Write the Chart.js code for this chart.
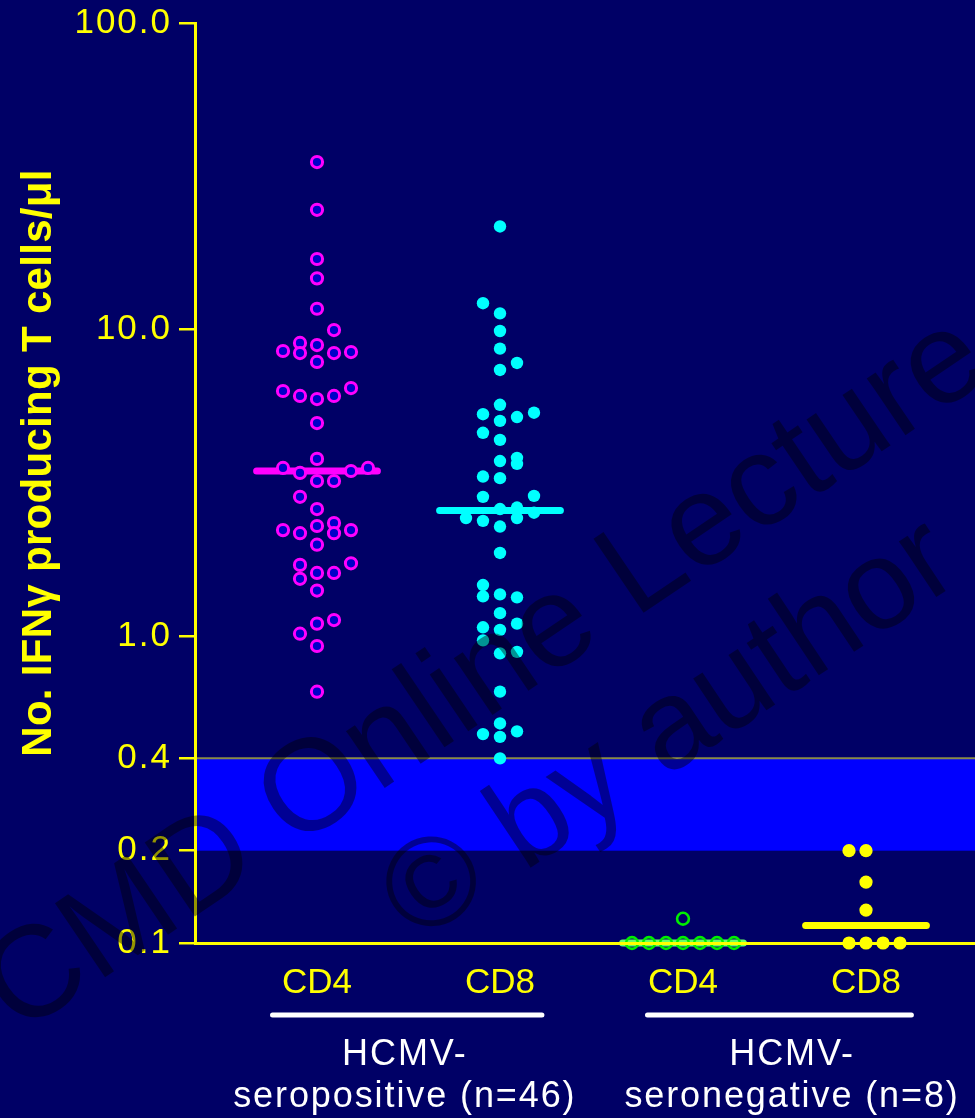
<!DOCTYPE html>
<html><head><meta charset="utf-8">
<script src="https://cdn.jsdelivr.net/npm/chart.js@4.4.1/dist/chart.umd.min.js"></script>
<style>html,body{margin:0;padding:0;background:#000066;}#wrap{width:975px;height:1118px;position:relative;}canvas{display:block}</style>
</head><body><div id="wrap"><canvas id="c"></canvas></div>
<script>
// ---------- data ----------
const categories = ['CD4', 'CD8', 'CD4', 'CD8'];
const groupLines = [['HCMV-', 'seropositive (n=46)'], ['HCMV-', 'seronegative (n=8)']];
const yTickValues = [0.1, 0.2, 0.4, 1, 10, 100];
const yTitle = 'No. IFNγ producing T cells/μl';
const watermark = ['CMD Online Lecture', '© by author'];
const cutoffBand = [0.2, 0.4];

// HCMV-seropositive CD4 (values, beeswarm column)
const posCD4 = [35.2, 24.6, 17.0, 14.7, 11.7, 9.97, 9.05, 8.91, 8.52, 8.39, 8.39, 8.45, 7.85,
  6.31, 6.45, 6.08, 5.94, 6.08, 4.96, 3.79, 3.54, 3.41, 3.46, 3.54, 3.21, 3.21, 2.85, 2.60,
  2.34, 2.29, 2.22, 2.17, 2.17, 2.22, 1.99, 1.71, 1.73, 1.61, 1.61, 1.54, 1.41, 1.13, 1.10,
  1.02, 0.93, 0.66];
const posCD4Col = [0, 0, 0, 0, 0, 1, -1, 0, -2, -1, 1, 2, 0,
  -2, 2, -1, 0, 1, 0, 0, -2, -1, 2, 3, 0, 1, -1, 0,
  1, 0, -2, -1, 1, 2, 0, -1, 2, 0, 1, -1, 0, 1, 0,
  -1, 0, 0];
// HCMV-seropositive CD8
const posCD8 = [21.7, 12.2, 11.3, 9.90, 8.67, 7.79, 7.39, 5.69, 5.30, 5.04, 5.19, 5.36, 4.61,
  4.37, 3.73, 3.82, 3.65, 3.32, 3.28, 2.85, 2.87, 2.60, 2.63, 2.53, 2.43, 2.38, 2.43, 2.28,
  1.87, 1.47, 1.35, 1.37, 1.34, 1.19, 1.07, 1.05, 1.10, 0.97, 0.88, 0.89, 0.66, 0.52, 0.48,
  0.49, 0.47, 0.40];
const posCD8Col = [0, -1, 0, 0, 0, 1, 0, 0, -1, 0, 1, 2, -1,
  0, 0, 1, 1, -1, 0, -1, 2, 0, 1, 2, -2, -1, 1, 0,
  0, -1, -1, 0, 1, 0, -1, 0, 1, -1, 0, 1, 0, 0, -1,
  1, 0, 0];
// HCMV-seronegative CD4 / CD8
const negCD4 = [0.1, 0.1, 0.1, 0.1, 0.1, 0.1, 0.1, 0.12];
const negCD4Col = [-3, -2, -1, 0, 1, 2, 3, 0];
const negCD8 = [0.2, 0.2, 0.158, 0.128, 0.1, 0.1, 0.1, 0.1];
const negCD8Col = [-1, 0, 0, 0, -1, 0, 1, 2];
// medians
const medians = [3.46, 2.57, 0.1, 0.114];

// ---------- styles ----------
const BG = '#000066';
const YEL = '#ffff00';
const FONT = '"Liberation Sans", Arial, Helvetica, sans-serif';
const COL_W = 17 / 183;       // beeswarm column width in category units
const MED_HALF = 0.33;        // half-length of median bars
const medColors = ['#ff00ff', '#00ffff', '#66ff66', '#ffff00'];

function pts(vals, cols, idx) { return vals.map((v, k) => ({ x: idx + cols[k] * COL_W, y: v })); }
function medSeg(i) { return [{ x: i + 1 - MED_HALF, y: medians[i] }, { x: i + 1 + MED_HALF, y: medians[i] }]; }

const deco = {
  id: 'deco',
  beforeDraw(chart) {
    const { ctx, chartArea: a, scales: { y } } = chart;
    ctx.save();
    ctx.fillStyle = BG; ctx.fillRect(0, 0, chart.width, chart.height);
    const y4 = y.getPixelForValue(cutoffBand[1]), y2 = y.getPixelForValue(cutoffBand[0]);
    ctx.fillStyle = '#0000ff'; ctx.fillRect(a.left, y4, a.right - a.left, y2 - y4);
    ctx.strokeStyle = '#8a8a48'; ctx.lineWidth = 2;
    ctx.beginPath(); ctx.moveTo(a.left, y4); ctx.lineTo(a.right, y4); ctx.stroke();
    ctx.restore();
    ctx.letterSpacing = '2px';
  },
  beforeDatasetsDraw(chart) { chart.ctx.letterSpacing = '0px'; },
  afterDraw(chart) {
    const { ctx, scales: { x } } = chart;
    ctx.save();
    ctx.letterSpacing = '0px';
    // y title
    ctx.save();
    ctx.translate(51, 463); ctx.rotate(-Math.PI / 2);
    ctx.font = 'bold 42px ' + FONT; ctx.fillStyle = YEL;
    ctx.textAlign = 'center'; ctx.textBaseline = 'alphabetic';
    ctx.letterSpacing = '0.3px';
    ctx.fillText(yTitle, 0, 0);
    ctx.restore();
    // group underlines + labels
    const groupSpan = [[0.757, 2.229], [2.806, 4.248]];
    const groupCenter = [1.48, 3.596];
    ctx.strokeStyle = '#ffffff'; ctx.lineWidth = 5; ctx.lineCap = 'round';
    groupSpan.forEach(s => {
      ctx.beginPath(); ctx.moveTo(x.getPixelForValue(s[0]), 1015); ctx.lineTo(x.getPixelForValue(s[1]), 1015); ctx.stroke();
    });
    ctx.fillStyle = '#ffffff'; ctx.font = '36px ' + FONT; ctx.textAlign = 'center'; ctx.textBaseline = 'alphabetic';
    ctx.letterSpacing = '1.9px';
    groupLines.forEach((g, i) => {
      const cx = x.getPixelForValue(groupCenter[i]);
      ctx.fillText(g[0], cx, 1065);
      ctx.fillText(g[1], cx, 1107);
    });
    ctx.letterSpacing = '0px';
    // watermark
    ctx.fillStyle = 'rgba(0,0,0,0.42)';
    ctx.textAlign = 'center'; ctx.textBaseline = 'middle';
    ctx.save(); ctx.translate(486, 676); ctx.rotate(-34.1 * Math.PI / 180);
    ctx.font = '130px ' + FONT; ctx.fillText(watermark[0], 0, 0); ctx.restore();
    ctx.save(); ctx.translate(671, 732); ctx.rotate(-33.7 * Math.PI / 180);
    ctx.font = '127px ' + FONT; ctx.fillText(watermark[1], 0, 0); ctx.restore();
    ctx.restore();
  }
};

const common = { clip: false, order: 1 };
new Chart(document.getElementById('c'), {
  type: 'scatter',
  data: {
    datasets: [
      ...medians.map((m, i) => ({ type: 'line', data: medSeg(i), borderColor: medColors[i], borderWidth: 7,
        borderCapStyle: 'round', pointRadius: 0, clip: false, order: 2 })),
      { ...common, data: pts(posCD4, posCD4Col, 1), pointRadius: 5.6, pointBorderWidth: 3,
        pointBorderColor: '#ff00ff', pointBackgroundColor: '#0000c8' },
      { ...common, data: pts(posCD8, posCD8Col, 2), pointRadius: 6.2, pointBorderWidth: 0,
        pointBorderColor: '#00ffff', pointBackgroundColor: '#00ffff' },
      { ...common, data: pts(negCD4, negCD4Col, 3), pointRadius: 5.9, pointBorderWidth: 2.6,
        pointBorderColor: '#00ee00', pointBackgroundColor: 'rgba(0,0,0,0)' },
      { ...common, data: pts(negCD8, negCD8Col, 4), pointRadius: 6.6, pointBorderWidth: 0,
        pointBorderColor: '#ffff00', pointBackgroundColor: '#ffff00' }
    ]
  },
  options: {
    responsive: true, maintainAspectRatio: false, animation: false, events: [],
    layout: { autoPadding: false, padding: { top: 23, left: 0, right: 0, bottom: 0 } },
    plugins: { legend: { display: false }, tooltip: { enabled: false } },
    scales: {
      x: {
        type: 'linear', min: 1 / 3, max: 1 / 3 + 780 / 183,
        afterBuildTicks: s => { s.ticks = categories.map((c, i) => ({ value: i + 1 })); },
        afterFit: s => { s.height = 175; s.paddingLeft = 0; s.paddingRight = 0; },
        ticks: { z: 1, color: YEL, font: { family: FONT, size: 35 }, padding: 19, autoSkip: false,
          maxRotation: 0, callback: (v, i) => categories[i] },
        grid: { display: false, drawTicks: false },
        border: { display: true, color: YEL, width: 3, z: 1 }
      },
      y: {
        type: 'logarithmic', min: 0.1, max: 100,
        afterBuildTicks: s => { s.ticks = yTickValues.map(v => ({ value: v })); },
        afterFit: s => { s.width = 195; s.paddingTop = 0; s.paddingBottom = 0; },
        ticks: { color: YEL, font: { family: FONT, size: 35 }, padding: 7, autoSkip: false,
          callback: v => Number(v).toFixed(1) },
        grid: { display: true, drawOnChartArea: false, drawTicks: true, tickLength: 16, color: YEL, lineWidth: 2.5 },
        border: { display: true, color: YEL, width: 3 }
      }
    }
  },
  plugins: [deco]
});
</script></body></html>
